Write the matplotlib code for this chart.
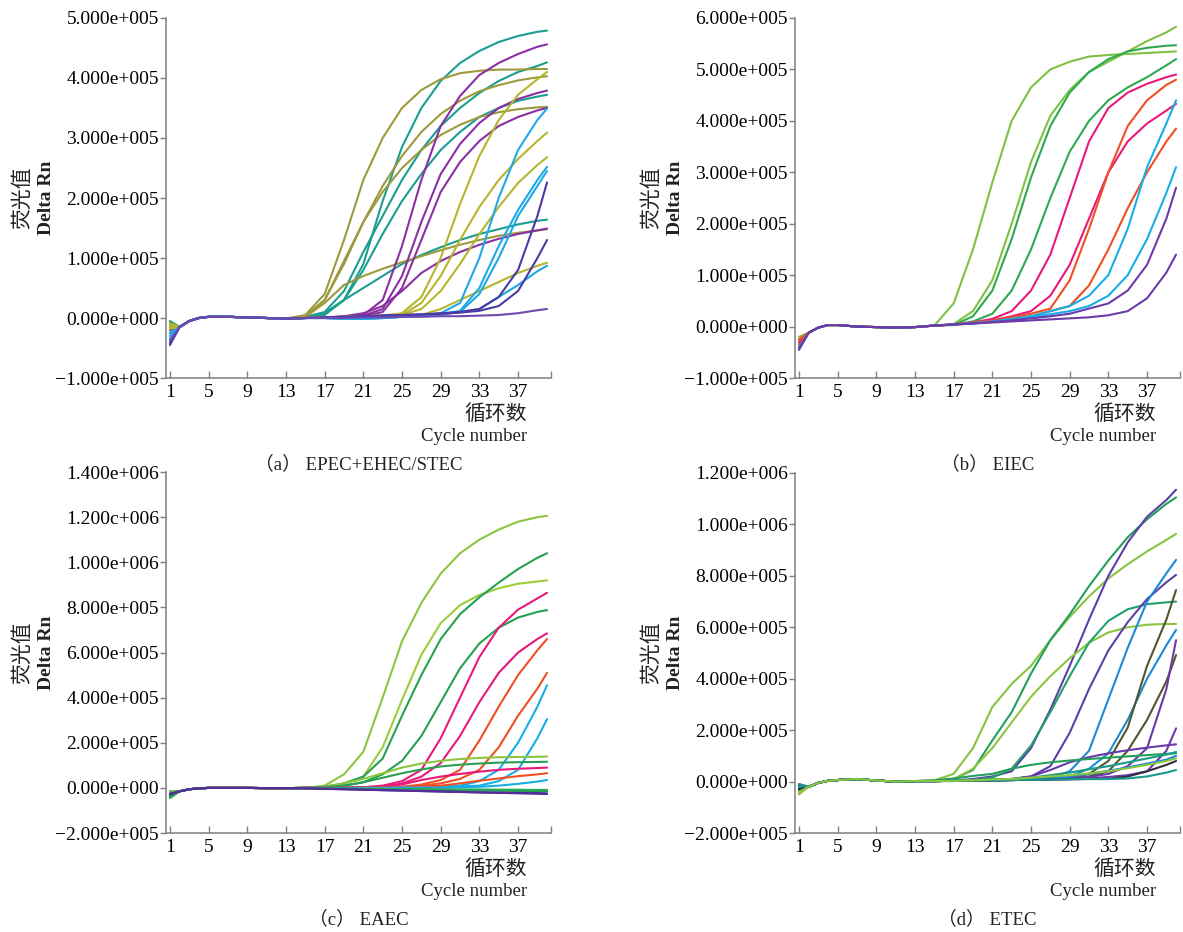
import matplotlib
matplotlib.use("Agg")
import matplotlib.pyplot as plt

plt.rcParams['font.family'] = ['Liberation Serif', 'Noto Sans CJK SC']
plt.rcParams['axes.unicode_minus'] = True

pre_cycles = [1, 2, 3, 4, 5, 7, 9, 11, 13]
amp_cycles = [15, 17, 19, 21, 23, 25, 27, 29, 31, 33, 35, 37, 39, 40]

# ---------------- (a) EPEC+EHEC/STEC   (values in 1e5) ----------------
base_a = [-0.15, -0.05, 0.0, 0.02, 0.02, 0.01, 0.0, -0.01]
starts_a = [-0.1, -0.2, -0.15, -0.05, -0.1, -0.25, -0.2, -0.08, -0.3, -0.35, -0.25, -0.2,
            -0.15, -0.12, -0.1, -0.18, -0.4, -0.35, -0.3, -0.25, -0.45, -0.42, -0.38]
amps_a = [
    [0.02, 0.08, 0.3, 0.9, 1.95, 2.85, 3.5, 3.95, 4.25, 4.45, 4.6, 4.7, 4.77, 4.79],
    [0.02, 0.1, 0.45, 1.1, 1.7, 2.3, 2.8, 3.2, 3.5, 3.75, 3.95, 4.1, 4.2, 4.26],
    [0.01, 0.05, 0.3, 0.8, 1.4, 1.95, 2.4, 2.8, 3.1, 3.35, 3.5, 3.62, 3.69, 3.72],
    [0.01, 0.08, 0.3, 0.5, 0.7, 0.9, 1.05, 1.18, 1.3, 1.4, 1.48, 1.56, 1.62, 1.64],
    [0.05, 0.4, 1.3, 2.3, 3.0, 3.5, 3.8, 3.98, 4.08, 4.12, 4.14, 4.14, 4.15, 4.15],
    [0.03, 0.3, 0.9, 1.6, 2.2, 2.7, 3.1, 3.4, 3.62, 3.78, 3.88, 3.96, 4.01, 4.03],
    [0.03, 0.3, 0.95, 1.6, 2.1, 2.5, 2.8, 3.05, 3.22, 3.35, 3.43, 3.48, 3.51, 3.52],
    [0.02, 0.25, 0.55, 0.7, 0.82, 0.93, 1.03, 1.13, 1.22, 1.3, 1.37, 1.42, 1.46, 1.48],
    [0.0, 0.01, 0.02, 0.05, 0.3, 1.2, 2.3, 3.2, 3.7, 4.05, 4.25, 4.4, 4.52, 4.56],
    [0.0, 0.01, 0.02, 0.04, 0.15, 0.7, 1.6, 2.4, 2.9, 3.25, 3.5, 3.65, 3.75, 3.79],
    [0.0, 0.01, 0.02, 0.03, 0.1, 0.5, 1.3, 2.1, 2.6, 2.95, 3.2, 3.35, 3.46, 3.5],
    [0.0, 0.01, 0.03, 0.08, 0.2, 0.45, 0.75, 0.95, 1.1, 1.22, 1.32, 1.4, 1.46, 1.49],
    [0.0, 0.01, 0.02, 0.03, 0.04, 0.08, 0.35, 1.0, 1.9, 2.7, 3.3, 3.72, 3.98, 4.1],
    [0.0, 0.01, 0.02, 0.03, 0.04, 0.05, 0.25, 0.7, 1.3, 1.85, 2.3, 2.65, 2.95, 3.09],
    [0.0, 0.01, 0.02, 0.03, 0.04, 0.05, 0.15, 0.45, 0.9, 1.4, 1.85, 2.25, 2.55, 2.68],
    [0.0, 0.01, 0.02, 0.03, 0.04, 0.05, 0.05, 0.15, 0.3, 0.45, 0.6, 0.75, 0.87, 0.92],
    [0.0, 0.0, -0.01, -0.01, 0.0, 0.02, 0.05, 0.08, 0.25, 1.0, 2.0, 2.8, 3.3, 3.49],
    [0.0, 0.0, -0.01, -0.01, 0.0, 0.02, 0.04, 0.06, 0.12, 0.5, 1.2, 1.8, 2.3, 2.52],
    [0.0, 0.0, -0.01, -0.01, 0.0, 0.02, 0.04, 0.06, 0.1, 0.4, 1.0, 1.7, 2.2, 2.45],
    [0.0, 0.0, -0.01, -0.01, 0.0, 0.02, 0.04, 0.06, 0.1, 0.15, 0.35, 0.55, 0.78, 0.87],
    [0.0, 0.01, 0.02, 0.03, 0.04, 0.05, 0.06, 0.08, 0.1, 0.15, 0.35, 0.8, 1.7, 2.26],
    [0.0, 0.01, 0.02, 0.03, 0.04, 0.05, 0.06, 0.07, 0.09, 0.12, 0.2, 0.45, 1.0, 1.3],
    [0.0, 0.0, 0.0, 0.01, 0.01, 0.02, 0.02, 0.03, 0.03, 0.04, 0.05, 0.08, 0.13, 0.15],
]
colors_a = (['#1b9e8f'] * 4 + ['#9c9a3c'] * 4 + ['#8b2fa3'] * 4 + ['#b5b52e'] * 4
            + ['#1ea9e6'] * 4 + ['#4b3aa6', '#4b3aa6', '#7048b0'])

# ---------------- (b) EIEC ----------------
base_b = [-0.12, -0.02, 0.03, 0.03, 0.0, -0.01, -0.02, -0.01]
starts_b = [-0.2, -0.25, -0.3, -0.35, -0.3, -0.4, -0.25, -0.35, -0.4, -0.45, -0.45, -0.42]
amps_b = [
    [0.02, 0.45, 1.5, 2.8, 4.0, 4.65, 5.0, 5.15, 5.25, 5.28, 5.3, 5.32, 5.34, 5.35],
    [0.02, 0.05, 0.3, 0.9, 2.0, 3.2, 4.1, 4.6, 4.95, 5.15, 5.35, 5.55, 5.72, 5.83],
    [0.02, 0.03, 0.2, 0.7, 1.7, 2.9, 3.9, 4.55, 4.95, 5.2, 5.35, 5.42, 5.46, 5.47],
    [0.02, 0.04, 0.1, 0.25, 0.7, 1.5, 2.5, 3.4, 4.0, 4.4, 4.65, 4.85, 5.08, 5.2],
    [0.02, 0.04, 0.08, 0.15, 0.3, 0.7, 1.4, 2.5, 3.6, 4.25, 4.55, 4.72, 4.85, 4.9],
    [0.02, 0.04, 0.08, 0.12, 0.2, 0.3, 0.6, 1.2, 2.1, 3.0, 3.6, 3.95, 4.2, 4.33],
    [0.02, 0.04, 0.08, 0.12, 0.18, 0.25, 0.35, 0.9, 1.9, 3.0, 3.9, 4.4, 4.7, 4.8],
    [0.02, 0.04, 0.07, 0.1, 0.15, 0.2, 0.3, 0.4, 0.8, 1.5, 2.3, 3.0, 3.6, 3.85],
    [0.02, 0.04, 0.07, 0.1, 0.15, 0.2, 0.3, 0.4, 0.6, 1.0, 1.9, 3.1, 3.95, 4.4],
    [0.02, 0.04, 0.06, 0.09, 0.13, 0.18, 0.24, 0.3, 0.4, 0.6, 1.0, 1.7, 2.6, 3.1],
    [0.02, 0.04, 0.06, 0.09, 0.12, 0.16, 0.2, 0.25, 0.35, 0.45, 0.7, 1.2, 2.1, 2.7],
    [0.02, 0.04, 0.06, 0.08, 0.1, 0.12, 0.14, 0.16, 0.18, 0.22, 0.3, 0.55, 1.05, 1.4],
]
colors_b = ['#7dc243', '#7dc243', '#2fa84f', '#2fa84f', '#e8197a', '#e8197a',
            '#f04e23', '#f04e23', '#17aee8', '#17aee8', '#6c3ba8', '#6c3ba8']

# ---------------- (c) EAEC ----------------
base_c = [-0.15, -0.06, -0.02, 0.0, 0.0, 0.0, -0.01, -0.01]
starts_c = [-0.2, -0.25, -0.3, -0.15, -0.35, -0.3, -0.4, -0.35, -0.3, -0.25,
            -0.2, -0.3, -0.35, -0.4, -0.3, -0.45, -0.4, -0.35, -0.3, -0.25]
amps_c = [
    [0.0, 0.1, 0.6, 1.6, 4.0, 6.5, 8.2, 9.5, 10.4, 11.0, 11.45, 11.8, 12.0, 12.06],
    [0.0, 0.05, 0.2, 0.5, 1.8, 3.9, 5.9, 7.3, 8.1, 8.55, 8.85, 9.05, 9.15, 9.2],
    [0.0, 0.05, 0.2, 0.5, 1.3, 3.2, 5.0, 6.6, 7.7, 8.45, 9.1, 9.7, 10.2, 10.4],
    [0.0, 0.02, 0.1, 0.25, 0.6, 1.2, 2.3, 3.8, 5.3, 6.4, 7.1, 7.55, 7.8, 7.88],
    [0.0, 0.0, 0.01, 0.03, 0.1, 0.3, 0.8, 2.2, 4.0, 5.8, 7.1, 7.9, 8.4, 8.65],
    [0.0, 0.0, 0.01, 0.02, 0.05, 0.2, 0.5, 1.1, 2.3, 3.8, 5.1, 6.0, 6.6, 6.85],
    [0.0, 0.0, 0.0, 0.01, 0.02, 0.05, 0.15, 0.35, 0.8, 2.1, 3.6, 5.0, 6.1, 6.6],
    [0.0, 0.0, 0.0, 0.01, 0.02, 0.04, 0.1, 0.2, 0.4, 0.8, 1.8, 3.2, 4.4, 5.1],
    [0.0, 0.0, 0.0, 0.0, 0.01, 0.02, 0.04, 0.06, 0.1, 0.3, 0.8, 2.0, 3.6, 4.55],
    [0.0, 0.0, 0.0, 0.0, 0.01, 0.02, 0.03, 0.05, 0.07, 0.1, 0.3, 0.8, 2.2, 3.05],
    [0.0, 0.05, 0.2, 0.4, 0.65, 0.9, 1.08, 1.2, 1.28, 1.33, 1.36, 1.37, 1.38, 1.39],
    [0.0, 0.02, 0.1, 0.25, 0.45, 0.65, 0.82, 0.95, 1.03, 1.08, 1.12, 1.14, 1.15, 1.16],
    [0.0, 0.0, 0.01, 0.02, 0.05, 0.15, 0.35, 0.5, 0.62, 0.72, 0.8, 0.85, 0.88, 0.9],
    [0.0, 0.0, 0.0, 0.01, 0.02, 0.03, 0.05, 0.1, 0.2, 0.32, 0.42, 0.52, 0.6, 0.65],
    [0.0, 0.0, 0.0, 0.0, 0.0, 0.01, 0.01, 0.01, 0.02, 0.05, 0.1, 0.18, 0.28, 0.35],
    [-0.02, -0.03, -0.04, -0.05, -0.06, -0.07, -0.08, -0.09, -0.1, -0.1, -0.11, -0.11, -0.12, -0.12],
    [-0.02, -0.03, -0.04, -0.05, -0.06, -0.07, -0.08, -0.09, -0.1, -0.11, -0.12, -0.13, -0.14, -0.15],
    [-0.01, -0.02, -0.03, -0.03, -0.04, -0.05, -0.05, -0.06, -0.07, -0.07, -0.08, -0.08, -0.09, -0.09],
    [-0.02, -0.04, -0.06, -0.08, -0.1, -0.12, -0.14, -0.16, -0.18, -0.2, -0.21, -0.22, -0.23, -0.24],
    [-0.02, -0.04, -0.06, -0.08, -0.1, -0.12, -0.14, -0.16, -0.18, -0.2, -0.22, -0.24, -0.26, -0.27],
]
colors_c = ['#8cc63f', '#9ccc3a', '#27a052', '#27a052', '#e8197a', '#e8197a',
            '#f04e23', '#f04e23', '#17aee8', '#17aee8', '#8cc63f', '#27a052',
            '#e8197a', '#f04e23', '#17aee8', '#27a052', '#1fa048', '#2aa85a',
            '#2a3a9a', '#5a2a9a']

# ---------------- (d) ETEC ----------------
base_d = [-0.2, -0.05, 0.03, 0.06, 0.1, 0.04, 0.0, 0.02]
starts_d = [-0.45, -0.3, -0.2, -0.5, -0.25, -0.2, -0.3, -0.15, -0.25, -0.2,
            -0.15, -0.1, -0.3, -0.35, -0.2, -0.25, -0.3, -0.1, -0.4]
amps_d = [
    [0.05, 0.3, 1.3, 2.9, 3.8, 4.5, 5.5, 6.4, 7.2, 7.9, 8.45, 8.95, 9.4, 9.63],
    [0.03, 0.1, 0.45, 1.6, 2.7, 4.2, 5.5, 6.5, 7.6, 8.6, 9.5, 10.2, 10.8, 11.05],
    [0.02, 0.04, 0.1, 0.2, 0.4, 1.3, 2.8, 4.5, 6.3, 8.0, 9.3, 10.3, 10.95, 11.35],
    [0.03, 0.1, 0.5, 1.3, 2.3, 3.3, 4.1, 4.8, 5.4, 5.8, 6.0, 6.1, 6.13, 6.13],
    [0.02, 0.02, 0.06, 0.15, 0.5, 1.4, 2.7, 4.1, 5.4, 6.25, 6.7, 6.9, 6.97, 7.0],
    [0.02, 0.03, 0.05, 0.07, 0.1, 0.2, 0.6, 1.9, 3.6, 5.1, 6.2, 7.1, 7.75, 8.04],
    [0.02, 0.03, 0.04, 0.05, 0.07, 0.1, 0.15, 0.4, 1.2, 3.2, 5.2, 7.0, 8.1, 8.62],
    [0.02, 0.03, 0.04, 0.05, 0.06, 0.08, 0.12, 0.2, 0.5, 1.1, 2.4, 4.0, 5.3, 5.9],
    [0.02, 0.03, 0.04, 0.05, 0.06, 0.08, 0.1, 0.15, 0.3, 0.8, 2.1, 4.5, 6.3, 7.45],
    [0.02, 0.03, 0.04, 0.05, 0.06, 0.07, 0.09, 0.12, 0.2, 0.4, 1.2, 2.4, 3.9, 4.92],
    [0.02, 0.03, 0.04, 0.05, 0.06, 0.07, 0.09, 0.12, 0.18, 0.3, 0.6, 1.3, 3.6, 5.5],
    [0.02, 0.03, 0.04, 0.05, 0.06, 0.07, 0.08, 0.1, 0.13, 0.18, 0.25, 0.4, 1.2, 2.07],
    [0.02, 0.03, 0.04, 0.06, 0.1, 0.2, 0.45, 0.75, 0.95, 1.1, 1.22, 1.32, 1.41, 1.45],
    [0.05, 0.12, 0.22, 0.3, 0.5, 0.65, 0.75, 0.82, 0.88, 0.93, 0.98, 1.03, 1.08, 1.1],
    [0.02, 0.04, 0.06, 0.08, 0.1, 0.15, 0.25, 0.35, 0.48, 0.6, 0.75, 0.9, 1.05, 1.15],
    [0.02, 0.03, 0.04, 0.05, 0.06, 0.08, 0.1, 0.2, 0.3, 0.42, 0.55, 0.7, 0.85, 1.0],
    [0.02, 0.03, 0.04, 0.05, 0.06, 0.07, 0.08, 0.09, 0.1, 0.1, 0.2, 0.4, 0.65, 0.8],
    [0.02, 0.03, 0.04, 0.05, 0.06, 0.07, 0.08, 0.09, 0.1, 0.1, 0.12, 0.2, 0.35, 0.45],
    [0.02, 0.03, 0.05, 0.08, 0.1, 0.15, 0.2, 0.25, 0.32, 0.4, 0.52, 0.65, 0.8, 0.9],
]
colors_d = ['#86c440', '#22a05a', '#5e3ea6', '#8cc63f', '#20a06a', '#5e3ea6',
            '#1a8ad8', '#1a8ad8', '#55552a', '#55552a', '#6a3aa8', '#6a3aa8',
            '#6a3aa8', '#22a05a', '#1a9a8a', '#1a8ad8', '#2e2e3e', '#1a9a8a', '#8cc63f']

xticks = [1, 5, 9, 13, 17, 21, 25, 29, 33, 37]

yticks_a = [-1e5, 0, 1e5, 2e5, 3e5, 4e5, 5e5]
ylabels_a = ['−1.000e+005', '0.000e+000', '1.000e+005', '2.000e+005',
             '3.000e+005', '4.000e+005', '5.000e+005']
yticks_b = [-1e5, 0, 1e5, 2e5, 3e5, 4e5, 5e5, 6e5]
ylabels_b = ['−1.000e+005', '0.000e+000', '1.000e+005', '2.000e+005',
             '3.000e+005', '4.000e+005', '5.000e+005', '6.000e+005']
yticks_c = [-2e5, 0, 2e5, 4e5, 6e5, 8e5, 10e5, 12e5, 14e5]
ylabels_c = ['−2.000e+005', '0.000e+000', '2.000e+005', '4.000e+005', '6.000e+005',
             '8.000e+005', '1.000e+006', '1.200c+006', '1.400e+006']
yticks_d = [-2e5, 0, 2e5, 4e5, 6e5, 8e5, 10e5, 12e5]
ylabels_d = ['−2.000e+005', '0.000e+000', '2.000e+005', '4.000e+005', '6.000e+005',
             '8.000e+005', '1.000e+006', '1.200e+006']


def draw_panel(ax, starts, base, amps, colors, yticks, ylabels, title):
    x = pre_cycles + amp_cycles
    for s, a, c in zip(starts, amps, colors):
        y = [v * 1e5 for v in [s] + base + a]
        ax.plot(x, y, color=c, lw=1.5, solid_capstyle='round')

    ax.set_xlim(0.59, 40.4)
    ax.set_ylim(yticks[0], yticks[-1])
    ax.spines['top'].set_visible(False)
    ax.spines['right'].set_visible(False)
    for s in ['left', 'bottom']:
        ax.spines[s].set_color('#7f7f7f')
        ax.spines[s].set_linewidth(1.1)

    ax.set_xticks(xticks + [40.4])
    ax.set_xticklabels([str(t) for t in xticks] + [''])
    ax.set_yticks(yticks)
    ax.set_yticklabels(ylabels)
    ax.tick_params(axis='x', direction='in', length=5, width=1, color='#7f7f7f',
                   labelsize=14, pad=4)
    ax.tick_params(axis='y', direction='out', length=4, width=1, color='#7f7f7f',
                   labelsize=14, pad=1)

    ax.text(-0.375, 0.5, '荧光值', transform=ax.transAxes, rotation=90,
            ha='center', va='center', fontsize=15, family='Noto Sans CJK SC', color='#222222')
    ax.text(-0.31, 0.5, 'Delta Rn', transform=ax.transAxes, rotation=90,
            ha='center', va='center', fontsize=14, fontweight='bold', color='#222222')
    ax.text(0.938, -0.1, '循环数', transform=ax.transAxes, ha='right', va='center',
            fontsize=15, family='Noto Sans CJK SC', color='#222222')
    ax.text(0.938, -0.163, 'Cycle number', transform=ax.transAxes, ha='right',
            va='center', fontsize=13.5, color='#222222')
    ax.text(0.5, -0.24, title, transform=ax.transAxes, ha='center', va='center',
            fontsize=13.5, color='#222222')


def main():
    fig = plt.figure(figsize=(11.83, 9.32), dpi=100)
    ax_a = fig.add_axes([0.1403, 0.5944, 0.3254, 0.3863])
    ax_b = fig.add_axes([0.6720, 0.5944, 0.3254, 0.3863])
    ax_c = fig.add_axes([0.1403, 0.1062, 0.3254, 0.3873])
    ax_d = fig.add_axes([0.6720, 0.1062, 0.3254, 0.3863])

    draw_panel(ax_a, starts_a, base_a, amps_a, colors_a, yticks_a, ylabels_a,
               '（a） EPEC+EHEC/STEC')
    draw_panel(ax_b, starts_b, base_b, amps_b, colors_b, yticks_b, ylabels_b,
               '（b） EIEC')
    draw_panel(ax_c, starts_c, base_c, amps_c, colors_c, yticks_c, ylabels_c,
               '（c） EAEC')
    draw_panel(ax_d, starts_d, base_d, amps_d, colors_d, yticks_d, ylabels_d,
               '（d） ETEC')

    fig.savefig('out.png', dpi=100)


if __name__ == "__main__":
    main()
